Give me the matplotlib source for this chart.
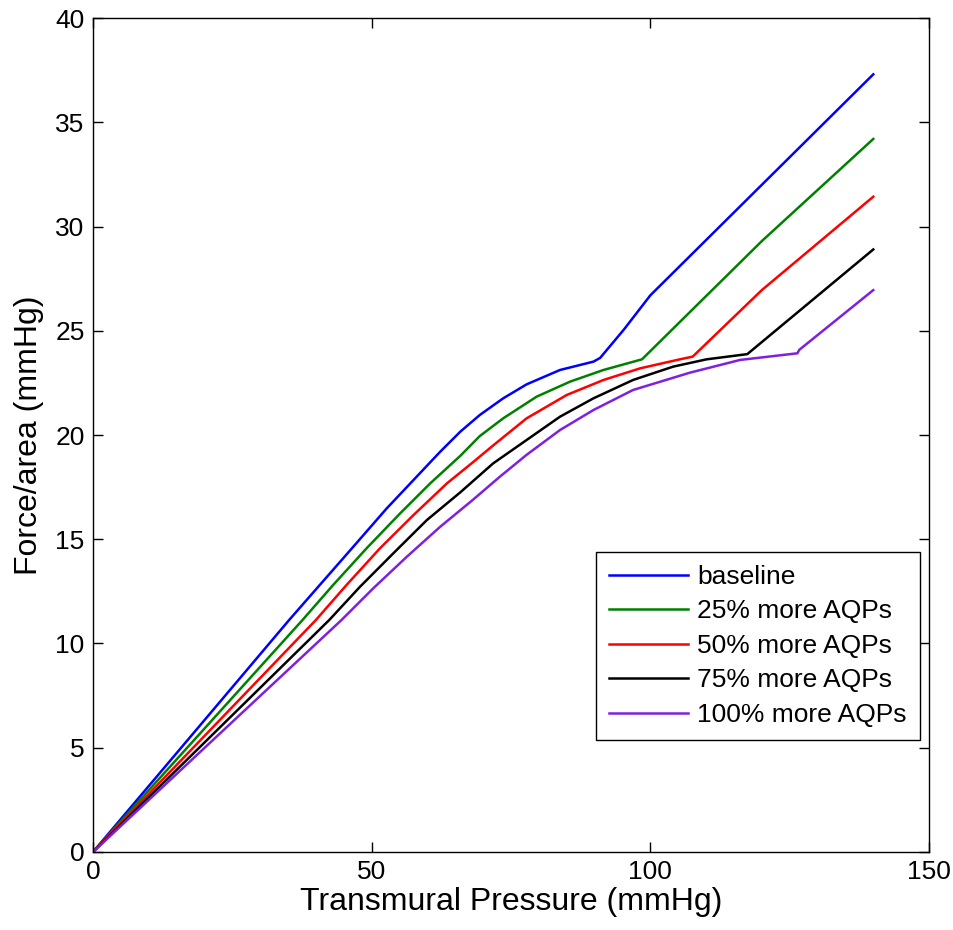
import matplotlib
matplotlib.use("Agg")
import matplotlib.pyplot as plt

# values (transmural pressure in mmHg -> force/area in mmHg)
base_x = [0, 35.2, 40.7, 46.7, 52.7, 57.5, 62.3, 65.9, 69.4, 73.6, 77.8, 83.8, 89.8, 91.0, 95.2, 100, 140]
base_y = [0, 11.13, 12.81, 14.64, 16.48, 17.84, 19.2, 20.16, 20.96, 21.76, 22.43, 23.12, 23.52, 23.7, 25.04, 26.7, 37.3]

aqp25_x = [0, 37.6, 43.1, 49.1, 55.1, 60.5, 65.9, 69.4, 73.6, 79.6, 85.6, 91.6, 98.5, 120, 140]
aqp25_y = [0, 11.13, 12.81, 14.57, 16.24, 17.68, 19.0, 19.95, 20.8, 21.84, 22.56, 23.12, 23.63, 29.3, 34.2]

aqp50_x = [0, 40.0, 45.5, 51.5, 57.5, 63.5, 68.2, 71.8, 77.8, 85.0, 91.6, 98.2, 105.3, 107.6, 120, 140]
aqp50_y = [0, 11.13, 12.81, 14.57, 16.16, 17.68, 18.7, 19.5, 20.8, 21.92, 22.64, 23.2, 23.63, 23.76, 26.95, 31.43]

aqp75_x = [0, 42.4, 47.9, 53.9, 59.9, 65.9, 71.8, 77.8, 83.8, 89.8, 96.9, 104.1, 110.1, 117.4, 140]
aqp75_y = [0, 11.13, 12.72, 14.33, 15.92, 17.25, 18.64, 19.76, 20.88, 21.76, 22.64, 23.28, 23.63, 23.88, 28.9]

aqp100_x = [0, 44.6, 50.3, 56.3, 62.3, 68.2, 73.0, 77.8, 83.8, 89.8, 96.9, 107.1, 116.1, 126.4, 126.7, 140]
aqp100_y = [0, 11.13, 12.65, 14.16, 15.6, 16.9, 18.0, 19.05, 20.24, 21.2, 22.16, 22.99, 23.6, 23.92, 24.08, 26.95]

labels = ["baseline", "25% more AQPs", "50% more AQPs", "75% more AQPs", "100% more AQPs"]
colors = ["#0000ff", "#008000", "#ff0000", "#000000", "#7f20e0"]

plt.rcParams["font.family"] = ["Liberation Sans", "DejaVu Sans"]

fig = plt.figure(figsize=(9.54, 9.3), dpi=100)
ax = fig.add_axes([0.0975, 0.0839, 0.8763, 0.8967])

series = [(base_x, base_y), (aqp25_x, aqp25_y), (aqp50_x, aqp50_y),
          (aqp75_x, aqp75_y), (aqp100_x, aqp100_y)]
for (xs, ys), lab, col in zip(series, labels, colors):
    ax.plot(xs, ys, color=col, lw=1.8, label=lab)

ax.set_xlim(0, 150)
ax.set_ylim(0, 40)
ax.set_xticks([0, 50, 100, 150])
ax.set_yticks(range(0, 41, 5))
ax.tick_params(direction="in", length=7, width=1, top=True, right=True, labelsize=19, pad=6)
for s in ax.spines.values():
    s.set_linewidth(1)

ax.set_xlabel("Transmural Pressure (mmHg)", fontsize=23, labelpad=2)
ax.set_ylabel("Force/area (mmHg)", fontsize=23, labelpad=8)

leg = ax.legend(loc="lower right", bbox_to_anchor=(0.989, 0.134), fontsize=19,
                frameon=True, fancybox=False, edgecolor="black", framealpha=1,
                handlelength=3.0, handletextpad=0.35, labelspacing=0.4,
                borderpad=0.5, borderaxespad=0)
leg.get_frame().set_linewidth(1)

fig.savefig("out.png", dpi=100)
